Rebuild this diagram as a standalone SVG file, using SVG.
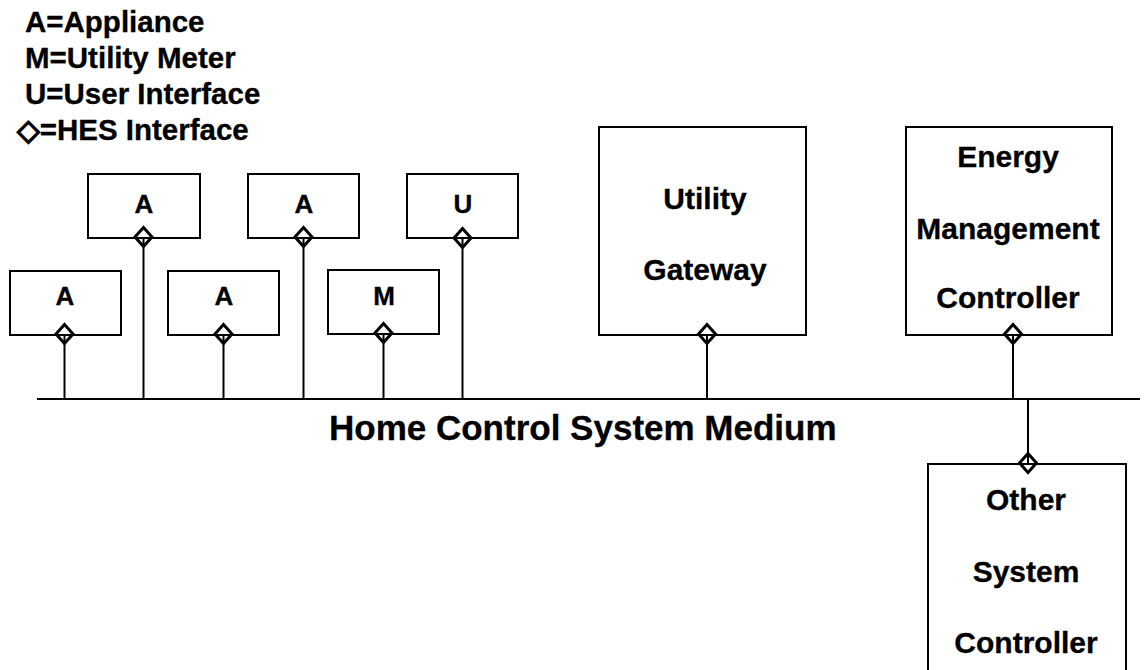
<svg xmlns="http://www.w3.org/2000/svg" xmlns:xlink="http://www.w3.org/1999/xlink" width="1145" height="670" viewBox="0 0 1145 670">
  <style>
    text { font-family: "Liberation Sans", Arial, "DejaVu Sans", sans-serif; font-weight: bold; fill: #000; stroke: #000; stroke-width: 0.3; }
    .box { fill: #fff; stroke: #000; stroke-width: 2; }
    .wire { stroke: #000; stroke-width: 2; fill: none; }
    .port { fill: none; stroke: #000; stroke-width: 3; stroke-linejoin: miter; }
    .legend { font-size: 29.5px; }
    .glyph { stroke-width: 1.6; }
    .tag { font-size: 26px; text-anchor: middle; }
    .big { font-size: 30px; text-anchor: middle; }
    .bus-label { font-size: 35px; }
  </style>
  <defs>
    <!-- HES interface port marker -->
    <path id="port" class="port" d="M0,-9.5 L8.5,0 L0,9.5 L-8.5,0 Z"/>
  </defs>

  <rect width="1145" height="670" fill="#fff"/>

  <!-- legend -->
  <g id="legend" class="legend">
    <text x="25" y="32">A=Appliance</text>
    <text x="25" y="68">M=Utility Meter</text>
    <text x="25" y="104">U=User Interface</text>
    <text x="17" y="140"><tspan class="glyph">◇</tspan>=HES Interface</text>
  </g>

  <!-- bus and drop lines -->
  <g id="connectors" class="wire">
    <line x1="37" y1="399" x2="1140" y2="399"/>
    <line x1="64.5" y1="399" x2="64.5" y2="335"/>
    <line x1="143.5" y1="399" x2="143.5" y2="238"/>
    <line x1="223.5" y1="399" x2="223.5" y2="335"/>
    <line x1="303.5" y1="399" x2="303.5" y2="238"/>
    <line x1="383.5" y1="399" x2="383.5" y2="334"/>
    <line x1="462.5" y1="399" x2="462.5" y2="238"/>
    <line x1="707" y1="399" x2="707" y2="335"/>
    <line x1="1013" y1="399" x2="1013" y2="335"/>
    <line x1="1028" y1="399" x2="1028" y2="464"/>
  </g>

  <text id="bus-label" class="bus-label" x="329" y="440">Home Control System Medium</text>

  <g id="appliance-1">
    <rect class="box" x="10" y="271" width="111" height="64"/>
    <text class="tag" x="65" y="305">A</text>
    <use xlink:href="#port" x="64.5" y="334"/>
  </g>
  <g id="appliance-2">
    <rect class="box" x="88" y="174" width="112" height="64"/>
    <text class="tag" x="144" y="213">A</text>
    <use xlink:href="#port" x="143.5" y="237"/>
  </g>
  <g id="appliance-3">
    <rect class="box" x="168" y="271" width="111" height="64"/>
    <text class="tag" x="224" y="305">A</text>
    <use xlink:href="#port" x="223.5" y="334"/>
  </g>
  <g id="appliance-4">
    <rect class="box" x="248" y="174" width="111" height="64"/>
    <text class="tag" x="304" y="213">A</text>
    <use xlink:href="#port" x="303.5" y="237"/>
  </g>
  <g id="meter">
    <rect class="box" x="328" y="270" width="111" height="64"/>
    <text class="tag" x="384" y="305">M</text>
    <use xlink:href="#port" x="383.5" y="333"/>
  </g>
  <g id="user-interface">
    <rect class="box" x="407" y="174" width="111" height="64"/>
    <text class="tag" x="463" y="213">U</text>
    <use xlink:href="#port" x="462.5" y="238"/>
  </g>
  <g id="utility-gateway">
    <rect class="box" x="599" y="127" width="207" height="208"/>
    <text class="big" x="705" y="209">Utility</text>
    <text class="big" x="705" y="280">Gateway</text>
    <use xlink:href="#port" x="707" y="334"/>
  </g>
  <g id="energy-management-controller">
    <rect class="box" x="906" y="127" width="206" height="208"/>
    <text class="big" x="1008" y="167">Energy</text>
    <text class="big" x="1008" y="239">Management</text>
    <text class="big" x="1008" y="308">Controller</text>
    <use xlink:href="#port" x="1013" y="334"/>
  </g>
  <g id="other-system-controller">
    <rect class="box" x="928" y="464" width="198" height="220"/>
    <text class="big" x="1026" y="510">Other</text>
    <text class="big" x="1026" y="582">System</text>
    <text class="big" x="1026" y="653">Controller</text>
    <use xlink:href="#port" x="1028" y="463"/>
  </g>
</svg>
